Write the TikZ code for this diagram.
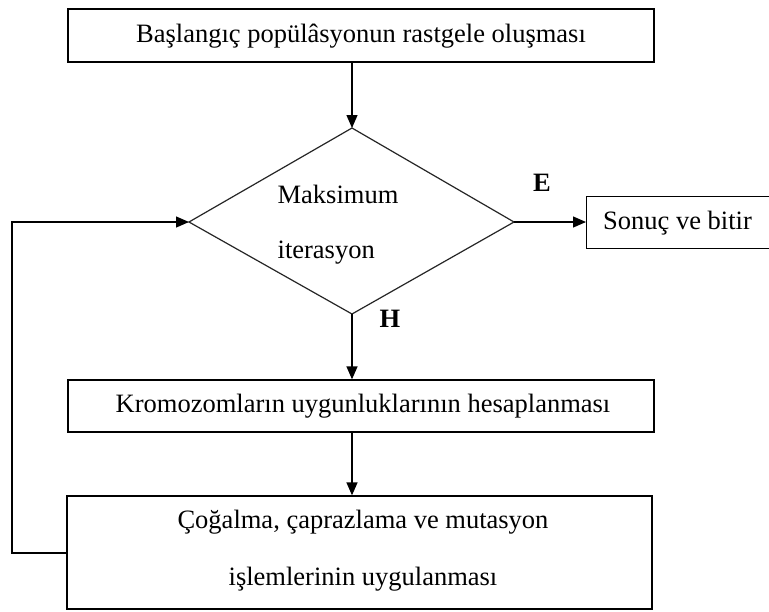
\documentclass[tikz,border=0pt]{standalone}
\usepackage{fontspec}
\setmainfont{Liberation Serif}
\usetikzlibrary{arrows.meta}
\tikzset{
  box/.style={draw=black, line width=1.3pt, fill=white, inner sep=0pt},
  flow/.style={draw=black, line width=1.3pt, -{Triangle[length=13pt,width=11pt]}},
  edge/.style={draw=black!85, line width=1.2pt, line join=miter},
  txt/.style={font=\fontsize{26.5}{30}\selectfont, inner sep=0pt},
  branchlabel/.style={font=\fontsize{26.5}{30}\selectfont\bfseries, inner sep=0pt}
}
\begin{document}
\begin{tikzpicture}[x=1pt, y=-1pt]
\useasboundingbox (0,0) rectangle (769,611);
\fill[white] (0,0) rectangle (769,611);

% process boxes
\node[box, minimum width=586pt, minimum height=53pt] (init) at (361,35.5) {};
\node[txt] (initT) at (361,36) {Başlangıç popülâsyonun rastgele oluşması};

\node[box, minimum width=586pt, minimum height=52pt] (fit) at (361,406) {};
\node[txt] (fitT) at (363,406) {Kromozomların uygunluklarının hesaplanması};

\node[box, minimum width=585pt, minimum height=113pt] (ops) at (359.5,552.5) {};
\node[txt, align=center, font=\fontsize{26.5}{57}\selectfont] (opsT) at (363,551) {Çoğalma, çaprazlama ve mutasyon\\işlemlerinin uygulanması};

\node[box, minimum width=190pt, minimum height=52pt, anchor=west] (end) at (586,222.5) {};
\node[txt, anchor=west] (endT) at (603,223) {Sonuç ve bitir};

% decision diamond
\coordinate (dtop) at (352,128);
\coordinate (dleft) at (189,222);
\coordinate (dright) at (514,222);
\coordinate (dbot) at (352,314);
\draw[edge] (dtop) -- (dright) -- (dbot) -- (dleft) -- cycle;
\node[txt, align=left, font=\fontsize{26.5}{55}\selectfont] (cond) at (338,225) {Maksimum\\iterasyon};

% branch labels
\node[branchlabel] (yes) at (542,183) {E};
\node[branchlabel] (no) at (390,319) {H};

% connectors
\draw[flow] (init.south -| dtop) -- (dtop);
\draw[flow] (dright) -- (dright -| end.west);
\draw[flow] (dbot) -- (dbot |- fit.north);
\draw[flow] (fit.south -| dtop) -- (dtop |- ops.north);
\coordinate (loopA) at (12,553);
\coordinate (loopB) at (12,222);
\draw[flow] (ops.west |- loopA) -- (loopA) -- (loopB) -- (dleft);
\end{tikzpicture}
\end{document}
